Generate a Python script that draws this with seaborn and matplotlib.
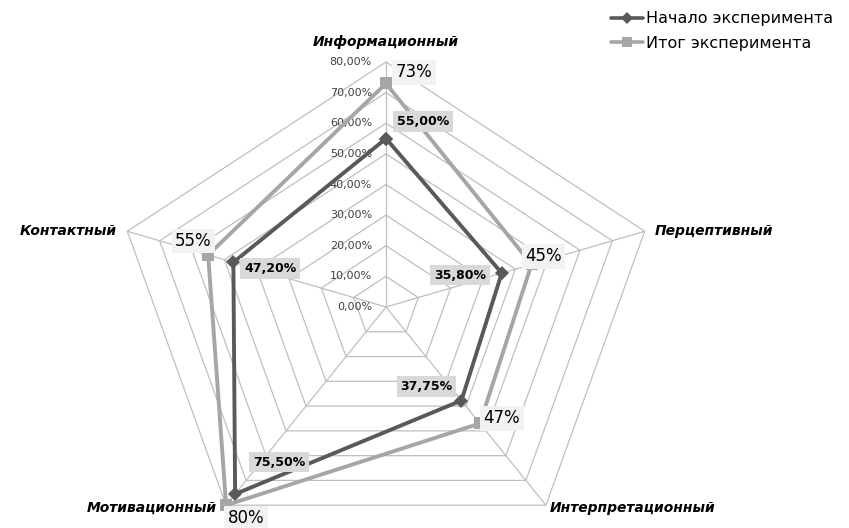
import numpy as np
import matplotlib
matplotlib.use("Agg")
import matplotlib.pyplot as plt
from matplotlib.lines import Line2D
import seaborn as sns

categories = ['Информационный', 'Перцептивный', 'Интерпретационный', 'Мотивационный', 'Контактный']
start_vals = [55.0, 35.8, 37.75, 75.5, 47.2]
end_vals = [73.0, 45.0, 47.0, 80.0, 55.0]
start_labels = ['55,00%', '35,80%', '37,75%', '75,50%', '47,20%']
end_labels = ['73%', '45%', '47%', '80%', '55%']
tick_vals = [0, 10, 20, 30, 40, 50, 60, 70, 80]
tick_labels = ['0,00%', '10,00%', '20,00%', '30,00%', '40,00%', '50,00%', '60,00%', '70,00%', '80,00%']
series_names = ['Начало эксперимента', 'Итог эксперимента']

sns.set_theme(style='white')
plt.rcParams['font.family'] = ['DejaVu Sans']
plt.rcParams['text.color'] = 'black'

W, H = 849, 528
fig = plt.figure(figsize=(W / 100, H / 100), dpi=100)
ax = fig.add_axes([0, 0, 1, 1])
ax.set_axis_off()

cx, cy = 386, 307
sx, sy = 3.4, 3.0625
ax.set_xlim(-cx / sx, (W - cx) / sx)
ax.set_ylim(-(H - cy) / sy, cy / sy)

n = len(categories)
theta = np.deg2rad(np.arange(n) * 360.0 / n)


def to_xy(vals):
    v = np.asarray(vals, dtype=float)
    return v * np.sin(theta), v * np.cos(theta)


grid_color = '#bfbfbf'
# grid pentagons
for t in tick_vals[1:]:
    gx, gy = to_xy([t] * n)
    ax.plot(np.append(gx, gx[0]), np.append(gy, gy[0]), color=grid_color, lw=0.9, zorder=1)
# spokes
ox, oy = to_xy([tick_vals[-1]] * n)
for i in range(n):
    ax.plot([0, ox[i]], [0, oy[i]], color=grid_color, lw=0.9, zorder=1)

# tick labels
for t, lab in zip(tick_vals, tick_labels):
    ax.annotate(lab, xy=(0, t), xytext=(-14, 0), textcoords='offset pixels',
                ha='right', va='center', fontsize=8, color='#404040', zorder=2)

# category labels
cat_offsets = [(0, 20), (10, 0), (4, -3), (-9, -3), (-10, 0)]
cat_ha = ['center', 'left', 'left', 'right', 'right']
for i, c in enumerate(categories):
    ax.annotate(c, xy=(ox[i], oy[i]), xytext=cat_offsets[i], textcoords='offset pixels',
                ha=cat_ha[i], va='center', fontsize=10, fontweight='bold',
                fontstyle='italic', color='black', zorder=2)

c_start = '#595959'
c_end = '#a6a6a6'

ex, ey = to_xy(end_vals)
sns.lineplot(x=np.append(ex, ex[0]), y=np.append(ey, ey[0]), sort=False, estimator=None,
             color=c_end, lw=2.8, marker='s', markersize=8, markeredgewidth=0,
             ax=ax, zorder=3)
stx, sty = to_xy(start_vals)
sns.lineplot(x=np.append(stx, stx[0]), y=np.append(sty, sty[0]), sort=False, estimator=None,
             color=c_start, lw=2.8, marker='D', markersize=7, markeredgewidth=0,
             ax=ax, zorder=4)

# data labels
start_offsets = [(37, 17), (-42, -2), (-35, 14), (44, 32), (37, -6)]
end_offsets = [(28, 11), (12, 8), (22, 5), (20, -13), (-15, 14)]
for i in range(n):
    ax.annotate(start_labels[i], xy=(stx[i], sty[i]), xytext=start_offsets[i],
                textcoords='offset pixels', ha='center', va='center', fontsize=9,
                fontweight='bold', color='black', zorder=6,
                bbox=dict(boxstyle='square,pad=0.3', fc='#d9d9d9', ec='none'))
    ax.annotate(end_labels[i], xy=(ex[i], ey[i]), xytext=end_offsets[i],
                textcoords='offset pixels', ha='center', va='center', fontsize=12,
                fontweight='medium', color='black', zorder=6,
                bbox=dict(boxstyle='square,pad=0.2', fc='#f2f2f2', ec='none'))

handles = [Line2D([0], [0], color=c_start, lw=2.6, marker='D', markersize=6, markeredgewidth=0),
           Line2D([0], [0], color=c_end, lw=2.6, marker='s', markersize=7, markeredgewidth=0)]
leg = fig.legend(handles, series_names, loc='upper right', bbox_to_anchor=(0.995, 1.0),
                 frameon=False, fontsize=11.5, handlelength=2.0, handletextpad=0.2,
                 labelspacing=0.6, borderaxespad=0.3)
for t in leg.get_texts():
    t.set_color('black')

fig.savefig('out.png', dpi=100)
